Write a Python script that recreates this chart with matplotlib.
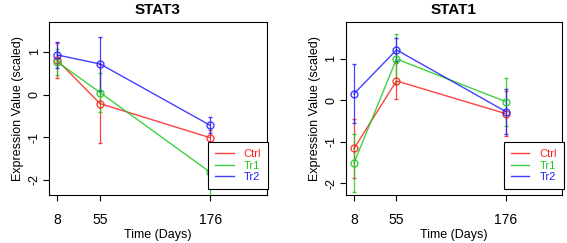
import matplotlib
matplotlib.use("Agg")
import matplotlib.pyplot as plt
from matplotlib.lines import Line2D

plt.rcParams['font.family'] = ['Liberation Sans', 'DejaVu Sans']

# 数据
days = [8, 55, 176]
tick_labels = ["8", "55", "176"]
groups = ["Ctrl", "Tr1", "Tr2"]
colors = ["#FF2020", "#20C820", "#2020FF"]

stat3_mean = {"Ctrl": [0.81, -0.21, -1.01],
              "Tr1": [0.77, 0.05, -1.82],
              "Tr2": [0.93, 0.72, -0.72]}
stat3_err = {"Ctrl": [0.41, 0.92, 0.17],
             "Tr1": [0.31, 0.46, 0.57],
             "Tr2": [0.31, 0.63, 0.19]}

stat1_mean = {"Ctrl": [-1.16, 0.47, -0.32],
              "Tr1": [-1.51, 1.00, -0.03],
              "Tr2": [0.16, 1.22, -0.27]}
stat1_err = {"Ctrl": [0.71, 0.44, 0.55],
             "Tr1": [0.69, 0.61, 0.58],
             "Tr2": [0.71, 0.28, 0.55]}

fig = plt.figure(figsize=(5.67, 2.43), dpi=100)
ax1 = fig.add_axes([0.0864, 0.198, 0.384, 0.711])
ax2 = fig.add_axes([0.610, 0.198, 0.381, 0.711])


def draw(ax, title, means, errs, ylim, anchor):
    for g, c in zip(groups, colors):
        ax.errorbar(days, means[g], yerr=errs[g], color=c, lw=1.0,
                    marker='o', ms=5, mfc='none', mec=c, mew=1.0,
                    elinewidth=0.9, capsize=1.2, capthick=0.9,
                    alpha=0.85)
    ax.set_xlim(-1, 238)
    ax.set_ylim(*ylim)
    ax.set_xticks(days)
    ax.set_xticklabels(tick_labels, fontsize=10)
    ax.set_yticks([-2, -1, 0, 1])
    ax.set_yticklabels(["-2", "-1", "0", "1"], fontsize=9, rotation=90,
                       va='center')
    ax.tick_params(direction='out', length=4, width=0.8, pad=2)
    ax.tick_params(axis='x', pad=9)
    ax.set_title(title, fontsize=11, fontweight='bold', pad=6)
    ax.set_xlabel("Time (Days)", fontsize=9, labelpad=1.5)
    ax.set_ylabel("Expression Value (scaled)", fontsize=9, labelpad=3)
    for s in ax.spines.values():
        s.set_linewidth(0.8)
    handles = [Line2D([], [], color=c, lw=1.0, alpha=0.85) for c in colors]
    leg = ax.legend(handles, groups, loc='lower right', bbox_to_anchor=anchor,
                    fontsize=8, frameon=True, fancybox=False, framealpha=1,
                    edgecolor='black', handlelength=1.7, handletextpad=0.9,
                    borderpad=0.6, labelspacing=0.15, borderaxespad=0)
    leg.get_frame().set_linewidth(0.8)
    for t, c in zip(leg.get_texts(), colors):
        t.set_color(c)


draw(ax1, "STAT3", stat3_mean, stat3_err, (-2.35, 1.70), (1.005, 0.035))
draw(ax2, "STAT1", stat1_mean, stat1_err, (-2.28, 1.89), (1.008, 0.035))

fig.savefig("out.png", dpi=100)
